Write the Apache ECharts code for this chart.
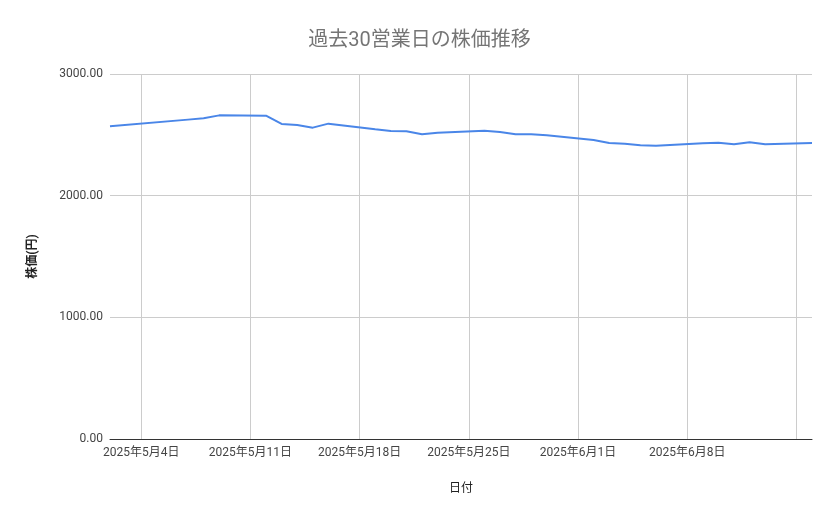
<!DOCTYPE html>
<html><head><meta charset="utf-8">
<script src="https://cdn.jsdelivr.net/npm/echarts@6/dist/echarts.min.js"></script>
<style>html,body{margin:0;padding:0;background:#fff}#c{width:839px;height:519px}</style>
</head><body><div id="c"></div>
<script>
const dates = ['2025-05-02','2025-05-07','2025-05-08','2025-05-09','2025-05-12','2025-05-13','2025-05-14','2025-05-15','2025-05-16',
  '2025-05-19','2025-05-20','2025-05-21','2025-05-22','2025-05-23','2025-05-26','2025-05-27','2025-05-28','2025-05-29','2025-05-30',
  '2025-06-02','2025-06-03','2025-06-04','2025-06-05','2025-06-06','2025-06-09','2025-06-10','2025-06-11','2025-06-12','2025-06-13','2025-06-16'];
const prices = [2570,2625,2636,2660,2657,2590,2581,2559,2592,
  2545,2531,2529,2504,2518,2534,2523,2504,2504,2496,
  2457,2433,2427,2414,2411,2430,2435,2422,2439,2422,2433];
const tickDates = ['2025-05-04','2025-05-11','2025-05-18','2025-05-25','2025-06-01','2025-06-08','2025-06-15'];
const labelDates = ['2025-05-04','2025-05-11','2025-05-18','2025-05-25','2025-06-01','2025-06-08'];
const yTicks = [0,1000,2000,3000];

const DAY = 86400000;
const base = Date.UTC(2025,4,4);
const toIdx = s => { const p = s.split('-').map(Number); return Math.round((Date.UTC(p[0],p[1]-1,p[2]) - base)/DAY); };
const fromIdx = i => { const d = new Date(base + i*DAY); return d.getUTCFullYear()+'年'+(d.getUTCMonth()+1)+'月'+d.getUTCDate()+'日'; };
const tickIdx = tickDates.map(toIdx);
const labelIdx = labelDates.map(toIdx);
const FONT = 'Roboto, "Noto Sans CJK JP", sans-serif';

const chart = echarts.init(document.getElementById('c'));
chart.setOption({
  animation:false,
  title:{text:'過去30営業日の株価推移',left:'center',top:26,textStyle:{fontFamily:FONT,fontSize:20,fontWeight:'normal',color:'#757575'}},
  grid:{left:110,right:27,top:74,bottom:80},
  xAxis:{type:'value',min:toIdx(dates[0]),max:toIdx(dates[dates.length-1]),
    name:'日付',nameLocation:'middle',nameGap:44,
    nameTextStyle:{fontFamily:FONT,fontSize:12,color:'#222'},
    axisLine:{show:true,lineStyle:{color:'#333',width:1}},
    axisTick:{show:false,customValues:tickIdx},
    axisLabel:{customValues:labelIdx,formatter:v=>fromIdx(v),fontFamily:FONT,fontSize:12,color:'#444',margin:8},
    splitLine:{show:true,lineStyle:{color:'#ccc',width:1}}
  },
  yAxis:{type:'value',min:yTicks[0],max:yTicks[yTicks.length-1],interval:1000,
    name:'株価(円)',nameLocation:'middle',nameGap:71,
    nameTextStyle:{fontFamily:FONT,fontSize:12,fontWeight:'bold',color:'#222'},
    axisLine:{show:false},axisTick:{show:false},
    axisLabel:{formatter:v=>v.toFixed(2),fontFamily:FONT,fontSize:12,color:'#444',margin:7},
    splitLine:{lineStyle:{color:'#ccc',width:1}}
  },
  series:[{type:'line',data:dates.map((d,i)=>[toIdx(d),prices[i]]),showSymbol:false,
    lineStyle:{color:'#4a86e8',width:2},itemStyle:{color:'#4a86e8'}}]
});
</script></body></html>
